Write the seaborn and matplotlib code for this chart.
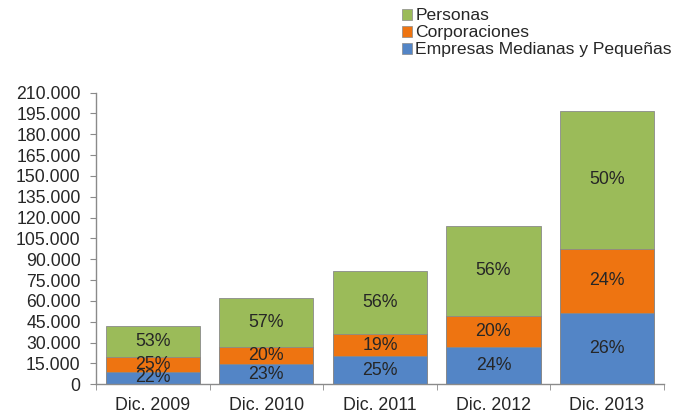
import matplotlib
matplotlib.use("Agg")
import matplotlib.pyplot as plt
import matplotlib.ticker as mticker
from matplotlib.patches import Patch
import numpy as np
import pandas as pd
import seaborn as sns

# Values
years = ["Dic. 2009", "Dic. 2010", "Dic. 2011", "Dic. 2012", "Dic. 2013"]
empresas = [9200, 14300, 20400, 26700, 51100]
corporaciones = [10500, 12400, 15500, 22800, 46500]
personas = [22300, 35400, 45700, 64700, 99200]
pct_empresas = ["22%", "23%", "25%", "24%", "26%"]
pct_corporaciones = ["25%", "20%", "19%", "20%", "24%"]
pct_personas = ["53%", "57%", "56%", "56%", "50%"]

c_green = "#9BBB59"
c_orange = "#EE7411"
c_blue = "#5385C6"

sns.set_style("white")
plt.rcParams["font.family"] = ["Liberation Sans", "DejaVu Sans"]

df = pd.DataFrame({"year": years, "emp": empresas, "corp": corporaciones, "pers": personas})
df["lvl1"] = df["emp"]
df["lvl2"] = df["emp"] + df["corp"]
df["lvl3"] = df["lvl2"] + df["pers"]

fig = plt.figure(figsize=(6.78, 4.15), dpi=100)
ax = fig.add_axes([0.1416, 0.074, 0.8374, 0.703])

# draw cumulative totals from tallest to shortest so the stack shows
for col, color in [("lvl3", c_green), ("lvl2", c_orange), ("lvl1", c_blue)]:
    sns.barplot(data=df, x="year", y=col, color=color, width=0.83,
                edgecolor="#8a8a8a", linewidth=0.6, ax=ax, saturation=1)

# percentage labels in the middle of each segment
for i in range(len(years)):
    ax.text(i, df["lvl1"][i] / 2, pct_empresas[i], ha="center", va="center", fontsize=12.8)
    ax.text(i, (df["lvl1"][i] + df["lvl2"][i]) / 2, pct_corporaciones[i], ha="center", va="center", fontsize=12.8)
    ax.text(i, (df["lvl2"][i] + df["lvl3"][i]) / 2, pct_personas[i], ha="center", va="center", fontsize=12.8)

ax.set_ylim(0, 210000)
ax.set_xlim(-0.5, 4.5)
ax.set_yticks(np.arange(0, 210001, 15000))
ax.yaxis.set_major_formatter(mticker.FuncFormatter(
    lambda v, p: "0" if v == 0 else f"{int(v):,}".replace(",", ".")))
ax.set_xlabel("")
ax.set_ylabel("")

# category boundary ticks on the x axis
ax.set_xticks(np.arange(-0.5, 4.6, 1), minor=True)
ax.tick_params(axis="x", which="major", length=0, labelsize=12.8, pad=9)
ax.tick_params(axis="x", which="minor", length=4, color="#8a8a8a", direction="out")
ax.tick_params(axis="y", length=4, color="#8a8a8a", direction="out", labelsize=12.7, pad=7)
ax.tick_params(axis="both", which="both", bottom=True, left=True)

sns.despine(ax=ax)
for s in ["left", "bottom"]:
    ax.spines[s].set_color("#8a8a8a")
    ax.spines[s].set_linewidth(1)

handles = [Patch(facecolor=c_green, edgecolor="#8a8a8a", linewidth=0.5),
           Patch(facecolor=c_orange, edgecolor="#8a8a8a", linewidth=0.5),
           Patch(facecolor=c_blue, edgecolor="#8a8a8a", linewidth=0.5)]
fig.legend(handles, ["Personas", "Corporaciones", "Empresas Medianas y Pequeñas"],
           loc="upper left", bbox_to_anchor=(0.582, 0.997), frameon=False,
           fontsize=12.6, handlelength=0.58, handleheight=0.58, handletextpad=0.2,
           labelspacing=0.12, borderaxespad=0)

fig.savefig("out.png", dpi=100)
